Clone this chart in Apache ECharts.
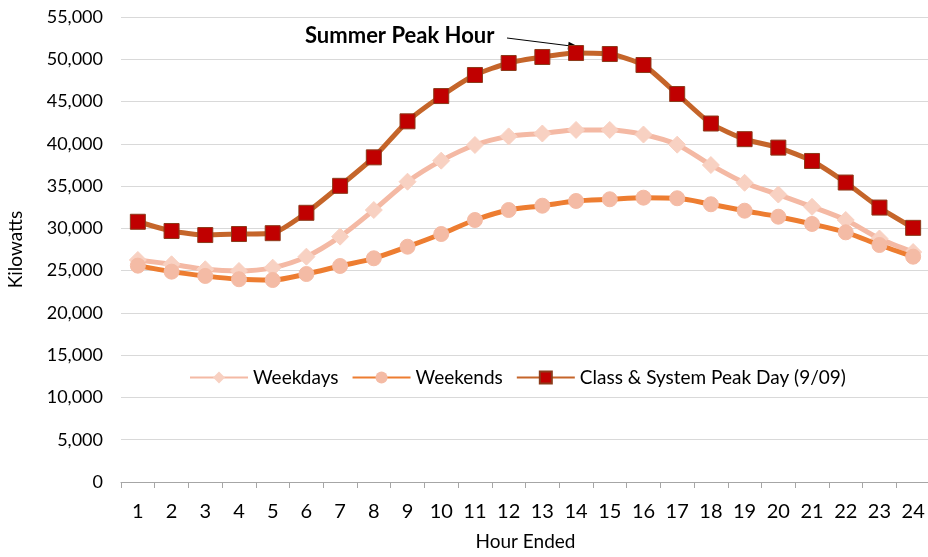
<!DOCTYPE html>
<html>
<head>
<meta charset="utf-8">
<script src="https://cdn.jsdelivr.net/npm/echarts@6/dist/echarts.min.js"></script>
<style>
  html, body { margin: 0; padding: 0; background: #fff; }
  #chart { width: 928px; height: 557px; }
</style>
</head>
<body>
<div id="chart"></div>
<script>
const hours = ['1', '2', '3', '4', '5', '6', '7', '8', '9', '10', '11', '12',
  '13', '14', '15', '16', '17', '18', '19', '20', '21', '22', '23', '24'];

const weekdays = [26260, 25750, 25160, 24960, 25350, 26650, 29020, 32170, 35520, 38010, 39860, 40880,
  41220, 41640, 41640, 41100, 39900, 37490, 35390, 34000, 32550, 30990, 28800, 27200];

const weekends = [25590, 24880, 24370, 23980, 23890, 24600, 25550, 26460, 27830, 29330, 30990, 32170,
  32680, 33240, 33440, 33630, 33560, 32850, 32090, 31380, 30520, 29530, 28030, 26650];

const peakDay = [30780, 29690, 29210, 29330, 29430, 31840, 35030, 38400, 42660, 45650, 48140, 49560,
  50270, 50740, 50620, 49320, 45890, 42400, 40550, 39550, 37970, 35420, 32460, 30060];

const peakHourIndex = 13;
const font = 'Lato, "Open Sans", sans-serif';

const chart = echarts.init(document.getElementById('chart'));
const option = {
  animation: false,
  textStyle: { fontFamily: font },
  grid: { left: 121, top: 17, width: 809, bottom: 75, outerBoundsMode: 'none', containLabel: false },
  legend: {
    left: 184,
    top: 363,
    itemWidth: 58,
    itemHeight: 15,
    itemGap: 13,
    backgroundColor: '#fff',
    textStyle: { fontSize: 19, color: '#000', fontFamily: font },
    data: ['Weekdays', 'Weekends', 'Class & System Peak Day (9/09)']
  },
  xAxis: {
    type: 'category',
    data: hours,
    boundaryGap: true,
    name: 'Hour Ended',
    nameLocation: 'middle',
    nameGap: 50,
    nameTextStyle: { fontSize: 19, color: '#000', fontFamily: font },
    axisLine: { lineStyle: { color: '#a6a6a6' } },
    axisTick: { show: true, length: 6, inside: false, lineStyle: { color: '#a6a6a6' } },
    axisLabel: { fontSize: 20, color: '#000', margin: 20, interval: 0 },
    splitLine: { show: false }
  },
  yAxis: {
    type: 'value',
    min: 0,
    max: 55000,
    interval: 5000,
    name: 'Kilowatts',
    nameLocation: 'middle',
    nameGap: 96,
    nameTextStyle: { fontSize: 19, color: '#000', fontFamily: font },
    axisLine: { show: false },
    axisTick: { show: false },
    axisLabel: {
      fontSize: 18,
      color: '#000',
      margin: 18,
      formatter: v => v.toLocaleString('en-US')
    },
    splitLine: { lineStyle: { color: '#d9d9d9', width: 1 } }
  },
  series: [
    {
      name: 'Weekdays',
      type: 'line',
      data: weekdays,
      smooth: 0.3,
      symbol: 'diamond',
      symbolSize: 17,
      lineStyle: { color: '#f4b9a4', width: 5 },
      itemStyle: { color: '#f8d1c2', borderColor: '#f8d1c2' },
      z: 2
    },
    {
      name: 'Weekends',
      type: 'line',
      data: weekends,
      smooth: 0.3,
      symbol: 'circle',
      symbolSize: 15,
      lineStyle: { color: '#ed7d31', width: 5 },
      itemStyle: { color: '#f4bba5', borderColor: '#f4bba5' },
      z: 3
    },
    {
      name: 'Class & System Peak Day (9/09)',
      type: 'line',
      data: peakDay,
      smooth: 0.2,
      symbol: 'rect',
      symbolSize: 15,
      lineStyle: { color: '#c5652a', width: 5 },
      itemStyle: { color: '#c00000', borderColor: '#8b3a1a', borderWidth: 1 },
      z: 4
    }
  ]
};
chart.setOption(option);

// annotation arrow pointing at the peak hour of the peak day
const tip = chart.convertToPixel({ gridIndex: 0 }, [peakHourIndex, peakDay[peakHourIndex]]);
const ax = tip[0] + 3, ay = tip[1] - 6;
chart.setOption({
  graphic: [
    {
      type: 'text',
      left: 305,
      top: 25,
      style: { text: 'Summer Peak Hour', font: 'bold 22px ' + font, fill: '#000' }
    },
    {
      type: 'line',
      shape: { x1: 507, y1: 38, x2: ax - 4, y2: ay - 0.5 },
      style: { stroke: '#000', lineWidth: 1 }
    },
    {
      type: 'polygon',
      x: ax,
      y: ay,
      rotation: -Math.atan2(ay - 38, ax - 507),
      shape: { points: [[0, 0], [-11, -4], [-11, 4]] },
      style: { fill: '#000' }
    }
  ]
});
</script>
</body>
</html>
